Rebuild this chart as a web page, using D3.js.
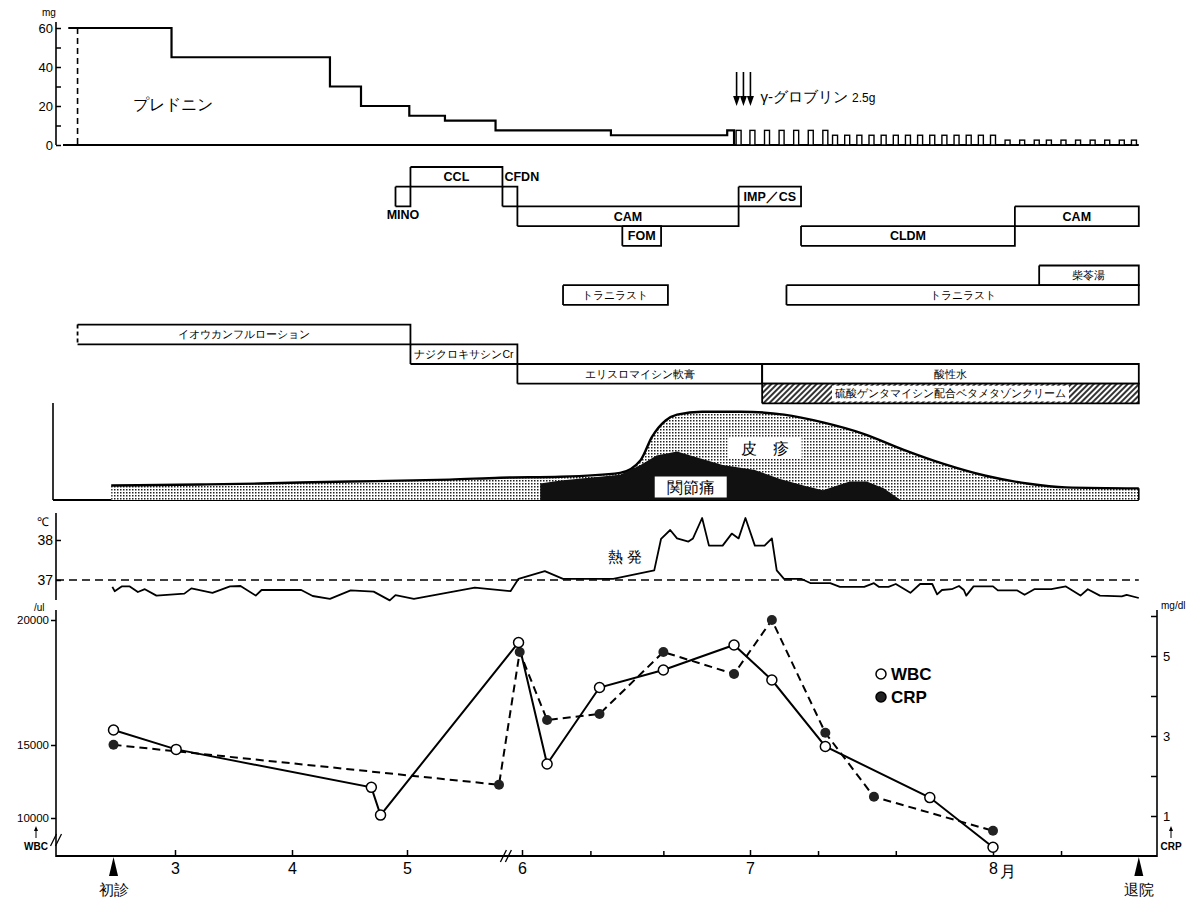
<!DOCTYPE html>
<html>
<head>
<meta charset="utf-8">
<script src="https://cdn.jsdelivr.net/npm/d3@7"></script>
<style>
  body { margin: 0; background: #fff; }
  svg { display: block; }
  text { font-family: "Liberation Sans", Arial, sans-serif; fill: #000; }
  .jp { font-family: "Noto Sans CJK JP", sans-serif; }
</style>
</head>
<body>
<svg id="chart" width="1194" height="898"></svg>
<script>
// time is in month units: 3 = 1 March, 6.5 = mid June ...
const monthTicks = [3, 4, 5, 6, 7, 8];
const monthLabels = ['3', '4', '5', '6', '7', '8'];
const minorTicks = [6.30, 6.62, 7.28, 7.60, 8.28];
const firstVisit = 2.47;
const discharge = 8.60;

// prednisone (mg/day), step changes
const predStart = [2.08, 2.97, 4.33, 4.60, 5.02, 5.33, 5.77, 6.39, 6.90];
const predDose = [60, 45, 30, 20, 15, 12.5, 7.5, 5, 7.5];
const predEnd = 6.93;
const predDashed = 2.16;
// alternate-day prednisone afterwards
const predAltDays = [6.95, 7.01, 7.07, 7.13, 7.19, 7.25, 7.31,
  7.35, 7.40, 7.45, 7.50, 7.55, 7.60, 7.65, 7.70, 7.75, 7.80, 7.85, 7.90, 7.95, 8.00,
  8.06, 8.12, 8.18, 8.23, 8.29, 8.35, 8.41, 8.47, 8.53, 8.58];
const predAltDose = [7.5, 7.5, 7.5, 7.5, 7.5, 7.5, 7.5,
  5, 5, 5, 5, 5, 5, 5, 5, 5, 5, 5, 5, 5, 5,
  2.5, 2.5, 2.5, 2.5, 2.5, 2.5, 2.5, 2.5, 2.5, 2.5];
const predTicks = [0, 10, 20, 30, 40, 50, 60];
const predTickLabels = [0, 20, 40, 60];
const globulinDays = [6.95, 6.98, 7.01];

// drugs / topicals: name, start, end, row
const drugNames = ['CCL', 'MINO', 'CFDN', 'CAM', 'FOM', 'IMP／CS', 'CLDM', 'CAM', '柴苓湯',
  'トラニラスト', 'トラニラスト', 'イオウカンフルローション', 'ナジクロキサシンCr',
  'エリスロマイシン軟膏', '酸性水', '硫酸ゲンタマイシン配合ベタメタゾンクリーム'];
const drugStart = [5.03, 4.90, 5.83, 5.96, 6.44, 6.95, 7.21, 8.09, 8.19, 6.18, 7.15, 2.16, 5.03, 5.96, 7.05, 7.05];
const drugEnd = [5.83, 5.03, 5.96, 6.95, 6.61, 7.21, 8.09, 8.60, 8.60, 6.64, 8.60, 5.03, 5.96, 7.05, 8.60, 8.60];
const drugRow = [0, 1, 1, 2, 3, 1, 3, 2, 5, 6, 6, 8, 9, 10, 10, 11];

// skin rash and joint pain (relative severity 0-100)
const rashDays = [2.45, 3.21, 3.73, 4.07, 4.50, 4.94, 5.37, 5.81, 6.17, 6.43, 6.52, 6.57, 6.63, 6.68,
  6.79, 6.96, 7.14, 7.30, 7.47, 7.63, 7.80, 7.97, 8.14, 8.30, 8.60];
const rashLevel = [15, 16, 17, 18, 19, 20, 21, 23, 24, 28, 41, 65, 82, 88,
  91, 91, 88, 80, 68, 52, 37, 25, 17, 13, 12];
const jointDays = [6.08, 6.08, 6.17, 6.43, 6.52, 6.59, 6.68, 6.75, 6.88, 7.02, 7.12, 7.22, 7.30,
  7.41, 7.48, 7.55, 7.62];
const jointLevel = [0, 17, 20, 26, 36, 46, 50, 45, 36, 31, 22, 15, 10, 19, 19, 12, 0];

// body temperature (°C)
const tempDays = [2.46, 2.48, 2.54, 2.61, 2.68, 2.74, 2.84, 3.08, 3.14, 3.32, 3.47, 3.56, 3.69, 3.74,
  4.08, 4.18, 4.33, 4.51, 4.71, 4.85, 4.90, 5.06, 5.59, 5.90, 5.97, 6.10, 6.18, 6.33, 6.40,
  6.58, 6.61, 6.65, 6.68, 6.73, 6.75, 6.79, 6.82, 6.88, 6.92, 6.95, 6.98, 7.02, 7.06, 7.09,
  7.11, 7.14, 7.21, 7.25, 7.33, 7.37, 7.47, 7.51, 7.53, 7.57, 7.60, 7.66, 7.70, 7.75, 7.77,
  7.79, 7.83, 7.86, 7.88, 7.89, 7.92, 8.00, 8.02, 8.10, 8.13, 8.17, 8.24, 8.30, 8.36, 8.39,
  8.44, 8.53, 8.55, 8.60];
const tempValues = [36.83, 36.72, 36.84, 36.84, 36.70, 36.77, 36.61, 36.66, 36.79, 36.68, 36.84, 36.85, 36.61, 36.75,
  36.75, 36.60, 36.53, 36.74, 36.71, 36.49, 36.62, 36.53, 36.81, 36.72, 37.03, 37.22, 37.03, 37.03, 37.03,
  37.24, 38.03, 38.25, 38.04, 37.96, 38.04, 38.55, 37.86, 37.86, 38.16, 38.04, 38.55, 37.86, 37.86, 38.04,
  37.24, 37.03, 37.03, 36.92, 36.92, 36.83, 36.83, 36.92, 36.83, 36.83, 36.90, 36.68, 36.90, 36.90, 36.64,
  36.75, 36.77, 36.85, 36.75, 36.61, 36.84, 36.84, 36.74, 36.74, 36.63, 36.77, 36.77, 36.84, 36.61, 36.77,
  36.61, 36.59, 36.63, 36.55];

// WBC (/ul) and CRP (mg/dl)
const wbcDays = [2.47, 3.01, 4.69, 4.77, 5.97, 6.11, 6.34, 6.62, 6.93, 7.09, 7.31, 7.74, 8.00];
const wbcValues = [15600, 14700, 12100, 10200, 19100, 13700, 17300, 18000, 19000, 17600, 14900, 11400, 8000];
const crpDays = [2.47, 5.80, 5.98, 6.11, 6.34, 6.62, 6.93, 7.09, 7.31, 7.51, 8.00];
const crpValues = [2.78, 1.78, 5.1, 3.4, 3.55, 5.1, 4.55, 5.9, 3.08, 1.48, 0.63];
const wbcTicks = [10000, 15000, 20000];
const crpTicks = [1, 2, 3, 4, 5, 6];
const crpTickLabels = [1, 3, 5];

const JP = '"Noto Sans CJK JP", sans-serif';
const svg = d3.select('#chart');

// piecewise time scale: June onwards is drawn at double width
const x = d3.scaleLinear().domain([2, 3, 4, 5, 6, 7, 8, 9]).range([59, 175, 292, 407, 522, 750, 993, 1236]);
const yPred = d3.scaleLinear().domain([0, 60]).range([145, 28]);
const yRow = d3.scaleLinear().domain([0, 12]).range([167, 403.4]);
const ySkin = d3.scaleLinear().domain([0, 100]).range([500, 403]);
const yTemp = d3.scaleLinear().domain([37, 38]).range([580, 540]);
// WBC axis is drawn unevenly in the original (broken below 10000)
const yWbc = d3.scaleLinear().domain([10000, 15000, 20000]).range([818, 745, 620]);
const yCrp = d3.scaleLinear().domain([0, 6]).range([856, 616]);

const axisX = 56, rightX = 1157, endX = x(discharge);

const defs = svg.append('defs');
const dots = defs.append('pattern').attr('id', 'dots').attr('patternUnits', 'userSpaceOnUse')
  .attr('width', 3).attr('height', 3);
dots.append('rect').attr('width', 3).attr('height', 3).attr('fill', '#fff');
dots.append('rect').attr('width', 1.5).attr('height', 1.5).attr('fill', '#222');
const hatch = defs.append('pattern').attr('id', 'hatch').attr('patternUnits', 'userSpaceOnUse')
  .attr('width', 4).attr('height', 4).attr('patternTransform', 'rotate(45)');
hatch.append('rect').attr('width', 4).attr('height', 4).attr('fill', '#fff');
hatch.append('line').attr('x1', 1).attr('y1', 0).attr('x2', 1).attr('y2', 4)
  .attr('stroke', '#000').attr('stroke-width', 1.6);

function styleAxis(g, size) {
  g.select('.domain').remove();
  g.selectAll('.tick line').attr('stroke', '#000').attr('stroke-width', 1.5);
  g.selectAll('.tick text').attr('font-size', size).attr('font-family', '"Liberation Sans", Arial, sans-serif');
}
function vline(xp, y1, y2) {
  svg.append('line').attr('x1', xp).attr('x2', xp).attr('y1', y1).attr('y2', y2)
    .attr('stroke', '#000').attr('stroke-width', 1.6);
}

// ---------- prednisone ----------
svg.append('g').attr('transform', `translate(${axisX},0)`)
  .call(d3.axisLeft(yPred).tickValues(predTicks)
    .tickFormat(d => predTickLabels.includes(d) ? d : '').tickSize(-5).tickPadding(3))
  .call(g => styleAxis(g, 13));
vline(axisX, 22, yPred(0));
svg.append('text').attr('x', 42).attr('y', 16).attr('font-size', 10).text('mg');
svg.append('line').attr('x1', 63).attr('x2', x(discharge)).attr('y1', yPred(0)).attr('y2', yPred(0))
  .attr('stroke', '#000').attr('stroke-width', 1.8);

const predPts = predStart.map((d, i) => [d, predDose[i]]).concat([[predEnd, 0]]);
svg.append('path')
  .attr('d', d3.line().x(d => x(d[0])).y(d => yPred(d[1])).curve(d3.curveStepAfter)(predPts))
  .attr('fill', 'none').attr('stroke', '#000').attr('stroke-width', 2.2);
svg.append('line').attr('x1', x(predDashed)).attr('x2', x(predDashed))
  .attr('y1', yPred(60)).attr('y2', yPred(0))
  .attr('stroke', '#000').attr('stroke-width', 1.6).attr('stroke-dasharray', '6,4');
svg.selectAll('rect.alt').data(predAltDays).join('rect').attr('class', 'alt')
  .attr('x', d => x(d) - 2.5).attr('width', 5)
  .attr('y', (d, i) => yPred(predAltDose[i]))
  .attr('height', (d, i) => yPred(0) - yPred(predAltDose[i]))
  .attr('fill', '#fff').attr('stroke', '#000').attr('stroke-width', 1.4);
svg.append('text').attr('x', 133).attr('y', 110).attr('font-size', 16)
  .attr('font-family', JP).text('プレドニン');

// γ-globulin arrows
globulinDays.forEach(d => {
  const xp = x(d) - 2;
  svg.append('line').attr('x1', xp).attr('x2', xp).attr('y1', 72).attr('y2', 98)
    .attr('stroke', '#000').attr('stroke-width', 1.6);
  svg.append('path').attr('d', `M${xp - 3.5},96 L${xp + 3.5},96 L${xp},106 Z`).attr('fill', '#000');
});
svg.append('text').attr('x', x(globulinDays[2]) + 8).attr('y', 102).attr('font-size', 15)
  .attr('font-family', JP)
  .call(t => t.append('tspan').text('γ-グロブリン '))
  .call(t => t.append('tspan').attr('font-size', 12).attr('font-family', '"Liberation Sans", Arial').text('2.5g'));

// ---------- drug boxes ----------
const rowH = yRow(1) - yRow(0);
const outsideLabel = { MINO: 'below', CFDN: 'above' };
drugNames.forEach((name, i) => {
  const x0 = x(drugStart[i]), x1 = x(drugEnd[i]);
  const y0 = yRow(drugRow[i]), y1 = y0 + rowH;
  const hatched = name.startsWith('硫酸');
  const g = svg.append('g');
  g.append('rect').attr('x', x0).attr('y', y0).attr('width', x1 - x0).attr('height', rowH)
    .attr('fill', hatched ? 'url(#hatch)' : 'none').attr('stroke', 'none');
  const dashLeft = name.startsWith('イオウ');
  g.append('path').attr('d', `M${x0},${y0} H${x1} V${y1} H${x0}`)
    .attr('fill', 'none').attr('stroke', '#000').attr('stroke-width', 1.8);
  g.append('line').attr('x1', x0).attr('x2', x0).attr('y1', y0).attr('y2', y1)
    .attr('stroke', '#000').attr('stroke-width', 1.8).attr('stroke-dasharray', dashLeft ? '4,3' : null);
  const latin = /^[A-Z]/.test(name);
  const fs = latin ? 12.5 : 10.5;
  let tx = (x0 + x1) / 2, ty = y0 + rowH / 2 + fs * 0.36, anchor = 'middle';
  if (outsideLabel[name] === 'below') { ty = y1 + 13; }
  if (outsideLabel[name] === 'above') { tx = x0 + 2; ty = y0 - rowH / 2 + fs * 0.36; anchor = 'start'; }
  const t = g.append('text').attr('x', tx).attr('y', ty).attr('text-anchor', anchor)
    .attr('font-size', fs).attr('font-weight', latin ? 'bold' : 'normal')
    .attr('font-family', latin ? '"Liberation Sans", Arial, sans-serif' : JP)
    .text(name);
  if (hatched) {
    const bb = t.node().getBBox();
    g.insert('rect', 'text').attr('x', bb.x - 3).attr('y', y0 + 2).attr('width', bb.width + 6)
      .attr('height', rowH - 4).attr('fill', '#fff');
  }
});

// ---------- skin rash / joint pain ----------
vline(53, 403, ySkin(0));
svg.append('line').attr('x1', 53).attr('x2', endX).attr('y1', ySkin(0)).attr('y2', ySkin(0))
  .attr('stroke', '#000').attr('stroke-width', 1.8);
const rash = rashDays.map((d, i) => [d, rashLevel[i]]);
svg.append('path')
  .attr('d', d3.area().x(d => x(d[0])).y0(ySkin(0)).y1(d => ySkin(d[1])).curve(d3.curveMonotoneX)(rash))
  .attr('fill', 'url(#dots)');
svg.append('path')
  .attr('d', d3.line().x(d => x(d[0])).y(d => ySkin(d[1])).curve(d3.curveMonotoneX)(rash))
  .attr('fill', 'none').attr('stroke', '#000').attr('stroke-width', 2.4);
vline(endX, ySkin(rashLevel[rashLevel.length - 1]), ySkin(0));
const joint = jointDays.map((d, i) => [d, jointLevel[i]]);
svg.append('path')
  .attr('d', d3.area().x(d => x(d[0])).y0(ySkin(0)).y1(d => ySkin(d[1])).curve(d3.curveLinear)(joint))
  .attr('fill', '#111');
function boxLabel(cx, cy, w, h, txt) {
  svg.append('rect').attr('x', cx - w / 2).attr('y', cy - h / 2).attr('width', w).attr('height', h).attr('fill', '#fff');
  svg.append('text').attr('x', cx).attr('y', cy + 5.5).attr('text-anchor', 'middle')
    .attr('font-size', 16).attr('font-family', JP).text(txt);
}
boxLabel(x(7.06), 448, 74, 21, '皮　疹');
boxLabel(x(6.74), 487, 72, 21, '関節痛');

// ---------- temperature ----------
svg.append('g').attr('transform', `translate(${axisX},0)`)
  .call(d3.axisLeft(yTemp).tickValues([37, 38]).tickFormat(d3.format('d')).tickSize(-5).tickPadding(3))
  .call(g => styleAxis(g, 14));
vline(axisX, 513, 600);
svg.append('text').attr('x', 37).attr('y', 526).attr('font-size', 12).attr('font-family', JP).text('℃');
svg.append('line').attr('x1', axisX).attr('x2', endX).attr('y1', yTemp(37)).attr('y2', yTemp(37))
  .attr('stroke', '#000').attr('stroke-width', 1.5).attr('stroke-dasharray', '8,5');
svg.append('path')
  .attr('d', d3.line().x(d => x(d)).y((d, i) => yTemp(tempValues[i]))(tempDays))
  .attr('fill', 'none').attr('stroke', '#000').attr('stroke-width', 1.8).attr('stroke-linejoin', 'round');
svg.append('text').attr('x', 625).attr('y', 562).attr('text-anchor', 'middle').attr('font-size', 15)
  .attr('font-family', JP).text('熱 発');

// ---------- WBC / CRP ----------
svg.append('g').attr('transform', `translate(${axisX},0)`)
  .call(d3.axisLeft(yWbc).tickValues(wbcTicks).tickFormat(d3.format('d')).tickSize(5).tickPadding(2))
  .call(g => styleAxis(g, 11.5));
vline(axisX, 610, 857);
svg.append('text').attr('x', 34).attr('y', 611).attr('font-size', 10).text('/ul');
svg.append('g').attr('transform', `translate(${rightX},0)`)
  .call(d3.axisRight(yCrp).tickValues(crpTicks)
    .tickFormat(d => crpTickLabels.includes(d) ? d : '').tickSize(-6).tickPadding(6))
  .call(g => styleAxis(g, 13));
vline(rightX, 610, 857);
svg.append('text').attr('x', 1161).attr('y', 609).attr('font-size', 10).text('mg/dl');

// x axis
svg.append('g').attr('transform', 'translate(0,856)')
  .call(d3.axisBottom(x).tickValues(monthTicks).tickFormat((d, i) => monthLabels[i]).tickSize(-6).tickPadding(7))
  .call(g => styleAxis(g, 16));
svg.append('g').attr('transform', 'translate(0,856)')
  .call(d3.axisBottom(x).tickValues(minorTicks).tickFormat('').tickSize(-5))
  .call(g => styleAxis(g, 10));
svg.append('line').attr('x1', axisX).attr('x2', rightX).attr('y1', 856).attr('y2', 856)
  .attr('stroke', '#000').attr('stroke-width', 1.8);
svg.append('text').attr('x', x(8) + 7).attr('y', 877).attr('font-size', 16).attr('font-family', JP).text('月');

// break marks
[[x(5.86), 856], [axisX, 840]].forEach(([bx, by]) => {
  [-2.5, 2.5].forEach(o => svg.append('line')
    .attr('x1', bx + o - 3).attr('y1', by + 6).attr('x2', bx + o + 3).attr('y2', by - 6)
    .attr('stroke', '#000').attr('stroke-width', 1.3));
});

// axis captions
function upArrowLabel(cx, txt) {
  svg.append('line').attr('x1', cx).attr('x2', cx).attr('y1', 838).attr('y2', 828).attr('stroke', '#000').attr('stroke-width', 1);
  svg.append('path').attr('d', `M${cx - 2},831 L${cx + 2},831 L${cx},826 Z`).attr('fill', '#000');
  svg.append('text').attr('x', cx).attr('y', 850).attr('text-anchor', 'middle')
    .attr('font-size', 10).attr('font-weight', 'bold').text(txt);
}
upArrowLabel(36, 'WBC');
upArrowLabel(1171, 'CRP');

// first visit / discharge markers
[[firstVisit, '初診'], [discharge, '退院']].forEach(([d, txt]) => {
  const xp = x(d);
  svg.append('path').attr('d', `M${xp},857 L${xp + 4.5},876 L${xp - 4.5},876 Z`).attr('fill', '#000');
  svg.append('text').attr('x', xp).attr('y', 895).attr('text-anchor', 'middle')
    .attr('font-size', 15).attr('font-family', JP).text(txt);
});

// lines
svg.append('path')
  .attr('d', d3.line().x(d => x(d)).y((d, i) => yCrp(crpValues[i]))(crpDays))
  .attr('fill', 'none').attr('stroke', '#000').attr('stroke-width', 2).attr('stroke-dasharray', '8,5');
svg.append('path')
  .attr('d', d3.line().x(d => x(d)).y((d, i) => yWbc(wbcValues[i]))(wbcDays))
  .attr('fill', 'none').attr('stroke', '#000').attr('stroke-width', 2);
svg.selectAll('circle.crp').data(crpDays).join('circle').attr('class', 'crp')
  .attr('cx', d => x(d)).attr('cy', (d, i) => yCrp(crpValues[i])).attr('r', 5).attr('fill', '#222');
svg.selectAll('circle.wbc').data(wbcDays).join('circle').attr('class', 'wbc')
  .attr('cx', d => x(d)).attr('cy', (d, i) => yWbc(wbcValues[i])).attr('r', 5)
  .attr('fill', '#fff').attr('stroke', '#000').attr('stroke-width', 1.5);

// legend
const legend = [['WBC', '#fff'], ['CRP', '#222']];
legend.forEach(([name, fill], i) => {
  const ly = 674 + i * 23;
  svg.append('circle').attr('cx', 881).attr('cy', ly).attr('r', 5).attr('fill', fill)
    .attr('stroke', '#000').attr('stroke-width', 1.5);
  svg.append('text').attr('x', 891).attr('y', ly + 6).attr('font-size', 17).attr('font-weight', 'bold').text(name);
});
</script>
</body>
</html>
